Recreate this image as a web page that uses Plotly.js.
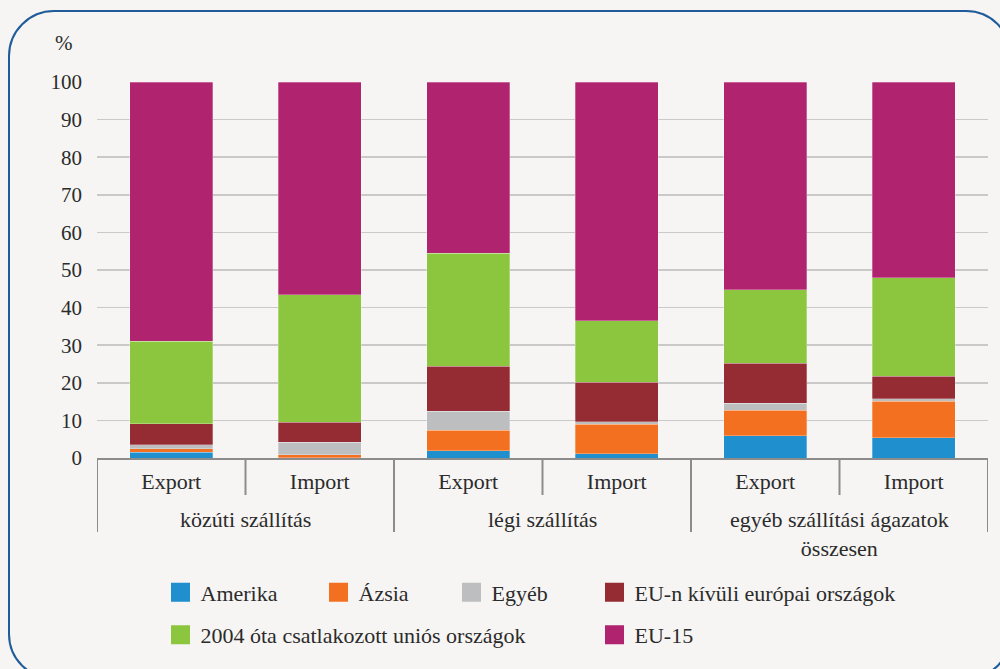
<!DOCTYPE html>
<html>
<head>
<meta charset="utf-8">
<script src="https://cdn.plot.ly/plotly-3.0.1.min.js"></script>
<style>
  html, body { margin:0; padding:0; background:#f6f5f3; overflow:hidden; }
  #frame { position:absolute; left:8px; top:10px; width:1004px; height:670px;
           border:2px solid #1f5c99; border-radius:46px; box-sizing:border-box; }
  #chart { position:absolute; left:0; top:0; width:1000px; height:669px; }
</style>
</head>
<body>
<div id="frame"></div>
<div id="chart"></div>
<script>
// ---- data ----
const groups = ["közúti szállítás","közúti szállítás","légi szállítás","légi szállítás",
                "egyéb szállítási ágazatok<br>összesen","egyéb szállítási ágazatok<br>összesen"];
const flows = ["Export","Import","Export","Import","Export","Import"];
const seriesNames = ["Amerika","Ázsia","Egyéb","EU-n kívüli európai országok",
                     "2004 óta csatlakozott uniós országok","EU-15"];
const amerika   = [1.5, 0.1, 1.9, 1.15, 5.9, 5.4];
const azsia     = [1.0, 0.7, 5.5, 7.85, 6.8, 9.7];
const egyeb     = [1.0, 3.4, 5.1, 0.7, 1.9, 0.65];
const euKivuli  = [5.6, 5.3, 11.9, 10.5, 10.6, 6.05];
const uj2004    = [22.0, 33.9, 30.0, 16.3, 19.5, 26.1];
const eu15      = [68.9, 56.6, 45.6, 63.5, 55.3, 52.1];
const yTicks    = [0,10,20,30,40,50,60,70,80,90,100];

// ---- styles ----
const colors = ["#1f8fce","#f37021","#bdbec0","#952c33","#8cc63f","#b0236f"];
const FONT = "Liberation Serif";
const TXT = "#2b2b2b";
const AXC = "#8c8c8c";
const values = [amerika, azsia, egyeb, euKivuli, uj2004, eu15];
const legendIds = ["legend","legend2","legend3","legend4","legend5","legend6"];

// category slots on the x axis
const idx = flows.map((f, i) => i);

const traces = [];
values.forEach((v, i) => {
  traces.push({
    type: "bar", name: seriesNames[i], x: idx, y: v,
    customdata: flows.map((f, k) => groups[k].replace("<br>", " ") + " – " + f),
    marker: { color: colors[i], line: { width: 0.8, color: "rgba(255,255,255,0.35)" } },
    showlegend: false, hovertemplate: "%{customdata}<br>%{y}<extra>" + seriesNames[i] + "</extra>"
  });
});
// legend entries with larger squares (no visible point)
values.forEach((v, i) => {
  traces.push({
    type: "scatter", mode: "markers", name: seriesNames[i],
    x: [idx[0]], y: [null],
    marker: { symbol: "square", size: 16, color: colors[i], line: { width: 3, color: colors[i] } },
    showlegend: true, legend: legendIds[i], hoverinfo: "skip"
  });
});

const L = 97, W = 891, T = 82, H = 376;
const px2x = p => (p - L) / W;
const px2y = p => (T + H - p) / H;
const dy = p => -p / H;            // distance below the axis, in paper units

// separators: short inside a group, long between groups
const shapes = [];
const groupSpans = [];
idx.forEach(i => {
  if (i === 0 || groups[i] !== groups[i - 1]) groupSpans.push([i, i]);
  else groupSpans[groupSpans.length - 1][1] = i;
});
groupSpans.forEach(([a, b], gi) => {
  shapes.push({ type: "line", xref: "x", yref: "paper", x0: a - 0.5, x1: a - 0.5, y0: 0, y1: dy(74),
                line: { color: AXC, width: 2 } });
  for (let k = a + 1; k <= b; k++) {
    shapes.push({ type: "line", xref: "x", yref: "paper", x0: k - 0.5, x1: k - 0.5, y0: 0, y1: dy(37),
                  line: { color: AXC, width: 2 } });
  }
  if (gi === groupSpans.length - 1) {
    shapes.push({ type: "line", xref: "x", yref: "paper", x0: b + 0.5, x1: b + 0.5, y0: 0, y1: dy(74),
                  line: { color: AXC, width: 2 } });
  }
});

const annotations = [{
  text: "%", xref: "paper", yref: "paper", x: px2x(64), y: px2y(43),
  xanchor: "center", yanchor: "middle",
  showarrow: false, font: { family: FONT, size: 21, color: TXT }
}];
groupSpans.forEach(([a, b]) => {
  annotations.push({
    text: groups[a], xref: "x", yref: "paper", x: (a + b) / 2, y: px2y(505),
    xanchor: "center", yanchor: "top", showarrow: false, align: "center",
    font: { family: FONT, size: 22, color: TXT }
  });
});

const legendPos = [[160.5, 571.5], [318.5, 571.5], [451.5, 571.5], [594.5, 571.5], [160.5, 614], [594.5, 614]];
const layout = {
  width: 1000, height: 669,
  margin: { l: L, r: 1000 - L - W, t: T, b: 669 - T - H, autoexpand: false },
  paper_bgcolor: "rgba(0,0,0,0)", plot_bgcolor: "rgba(0,0,0,0)",
  barmode: "stack", bargap: 0.444,
  font: { family: FONT, size: 21, color: TXT },
  showlegend: true,
  xaxis: {
    range: [-0.5, idx.length - 0.5], tickvals: idx, ticktext: flows,
    showline: true, linecolor: AXC, linewidth: 2,
    ticks: "", ticklabelstandoff: 3,
    tickfont: { family: FONT, size: 22, color: TXT },
    showgrid: false, zeroline: false, fixedrange: true
  },
  yaxis: {
    range: [0, 100], tickvals: yTicks, ticktext: yTicks.map(String),
    showgrid: true, gridcolor: "#c9c9c9", gridwidth: 1.5,
    showline: false, zeroline: false, ticks: "",
    ticklabelstandoff: 14,
    tickfont: { family: FONT, size: 21, color: TXT }
  },
  shapes: shapes,
  annotations: annotations
};
legendIds.forEach((id, i) => {
  layout[id] = {
    x: px2x(legendPos[i][0]), y: px2y(legendPos[i][1]),
    xanchor: "left", yanchor: "top", orientation: "v",
    bgcolor: "rgba(0,0,0,0)", borderwidth: 0,
    font: { family: FONT, size: 22, color: TXT }
  };
});

Plotly.newPlot("chart", traces, layout, { displayModeBar: false, staticPlot: true });
</script>
</body>
</html>
